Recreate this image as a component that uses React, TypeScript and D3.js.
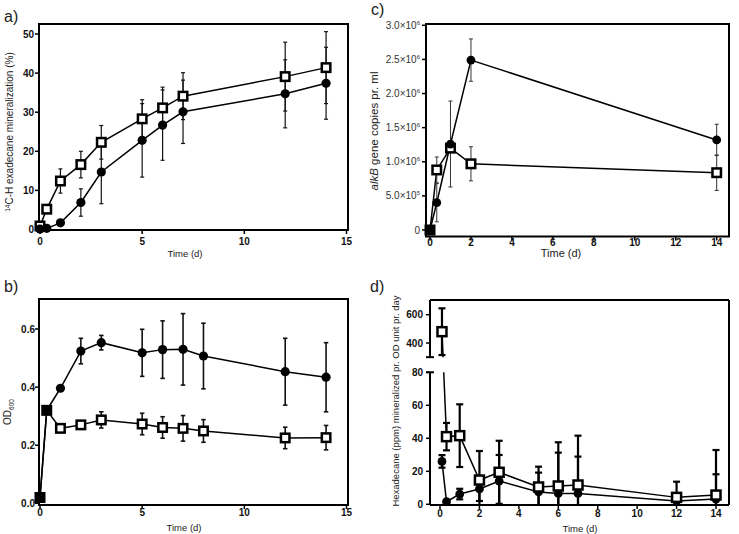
import React from "react";
import * as d3 from "d3";

// ---------- data ----------
// a) 14C-hexadecane mineralization (%)
const timeA = [0, 0.33, 1, 2, 3, 5, 6, 7, 12, 14];
const aSquare = [0.9, 5.2, 12.4, 16.6, 22.3, 28.3, 31.1, 34.1, 39.1, 41.4];
const aSquareErr = [0, 0, 3.1, 3.4, 4.3, 4.9, 5.3, 6.0, 8.8, 9.2];
const aCircle = [0.1, 0.3, 1.7, 6.9, 14.7, 22.8, 26.7, 30.1, 34.7, 37.4];
const aCircleErr = [0, 0, 0, 3.5, 8.1, 9.4, 9.0, 8.1, 8.7, 9.2];
const aXTicks = [0, 5, 10, 15];
const aYTicks = [0, 10, 20, 30, 40, 50];

// b) OD600
const timeB = [0, 0.33, 1, 2, 3, 5, 6, 7, 8, 12, 14];
const bCircle = [0.02, 0.32, 0.396, 0.524, 0.553, 0.518, 0.529, 0.53, 0.507, 0.453, 0.434];
const bCircleErr = [0, 0, 0, 0.044, 0.025, 0.081, 0.099, 0.123, 0.113, 0.115, 0.119];
const bSquare = [0.02, 0.32, 0.258, 0.27, 0.287, 0.273, 0.261, 0.258, 0.249, 0.225, 0.226];
const bSquareErr = [0, 0, 0, 0, 0.028, 0.037, 0.037, 0.044, 0.039, 0.037, 0.042];
const bXTicks = [0, 5, 10, 15];
const bYTicks = [0, 0.2, 0.4, 0.6];

// c) alkB gene copies pr. ml
const timeC = [0, 0.33, 1, 2, 14];
const cCircle = [0, 4.0e5, 1.26e6, 2.49e6, 1.32e6];
const cCircleErr = [0, 2.8e5, 6.3e5, 3.1e5, 2.3e5];
const cSquare = [0, 8.8e5, 1.2e6, 9.7e5, 8.4e5];
const cSquareErr = [0, 1.9e5, 0, 2.5e5, 2.6e5];
const cXTicks = [0, 2, 4, 6, 8, 10, 12, 14];
const cYTicks = [0, 5e5, 1e6, 1.5e6, 2e6, 2.5e6, 3e6];

// d) Hexadecane (ppm) mineralized pr. OD unit pr. day
const timeD = [0.1, 0.33, 1, 2, 3, 5, 6, 7, 12, 14];
const dSquare = [480, 41, 41.6, 14.7, 19.4, 10.5, 11.1, 11.7, 4.2, 5.6];
const dSquareErr = [165, 8.3, 19.0, 17.6, 19.1, 12.3, 26.5, 29.9, 9.5, 27.3];
const dCircle = [26, 1.6, 6.2, 9.3, 14.1, 7.5, 6.6, 6.6, 2.0, 3.2];
const dCircleErr = [3.8, 0, 3.2, 7.3, 15.8, 11.7, 24.7, 22.3, 0, 15.0];
const dXTicks = [0, 2, 4, 6, 8, 10, 12, 14];
const dYTicksLow = [0, 20, 40, 60, 80];
const dYTicksHigh = [400, 600];

const FONT = "'Liberation Sans', Arial, Helvetica, sans-serif";

type Sc = (v: number) => number;

function linePath(xs: number[], ys: number[], sx: Sc, sy: Sc) {
  const pts: [number, number][] = xs.map((x, i) => [sx(x), sy(ys[i])]);
  return d3.line()(pts) || "";
}

function ErrorBars(props: {
  xs: number[]; ys: number[]; es: number[]; sx: Sc; sy: Sc;
  cap: number; sw: number; color: string; minV?: number;
}) {
  const { xs, ys, es, sx, sy, cap, sw, color, minV } = props;
  return (
    <g stroke={color} strokeWidth={sw} fill="none">
      {xs.map((x, i) => {
        const e = es[i];
        if (!e) return null;
        const hi = ys[i] + e;
        let lo = ys[i] - e;
        let loCap = true;
        if (minV !== undefined && lo < minV) { lo = minV; loCap = false; }
        const px = sx(x);
        return (
          <g key={i}>
            <line x1={px} x2={px} y1={sy(hi)} y2={sy(lo)} />
            <line x1={px - cap / 2} x2={px + cap / 2} y1={sy(hi)} y2={sy(hi)} />
            {loCap && <line x1={px - cap / 2} x2={px + cap / 2} y1={sy(lo)} y2={sy(lo)} />}
          </g>
        );
      })}
    </g>
  );
}

function Squares(props: { xs: number[]; ys: number[]; sx: Sc; sy: Sc; s: number; sw: number }) {
  const { xs, ys, sx, sy, s, sw } = props;
  return (
    <g>
      {xs.map((x, i) => (
        <rect key={i} x={sx(x) - s / 2} y={sy(ys[i]) - s / 2} width={s} height={s}
          fill="#fff" stroke="#000" strokeWidth={sw} />
      ))}
    </g>
  );
}

function Circles(props: { xs: number[]; ys: number[]; sx: Sc; sy: Sc; r: number }) {
  const { xs, ys, sx, sy, r } = props;
  return (
    <g>
      {xs.map((x, i) => (
        <circle key={i} cx={sx(x)} cy={sy(ys[i])} r={r} fill="#000" />
      ))}
    </g>
  );
}

function XAxis(props: { ticks: number[]; sx: Sc; y: number; labelY: number; size: number }) {
  const { ticks, sx, y, labelY, size } = props;
  return (
    <g>
      {ticks.map((t) => (
        <g key={t}>
          <line x1={sx(t)} x2={sx(t)} y1={y} y2={y + 4} stroke="#000" strokeWidth={1.5} />
          <text x={sx(t)} y={labelY} textAnchor="middle" fontSize={size} fontWeight="bold"
            fontFamily={FONT} fill="#111">{t}</text>
        </g>
      ))}
    </g>
  );
}

function YAxis(props: {
  ticks: number[]; sy: Sc; x: number; labelX: number; size: number;
  fmt?: (v: number) => any; bold?: boolean; color?: string;
}) {
  const { ticks, sy, x, labelX, size, fmt, bold, color } = props;
  return (
    <g>
      {ticks.map((t) => (
        <g key={t}>
          <line x1={x - 4} x2={x} y1={sy(t)} y2={sy(t)} stroke="#000" strokeWidth={1.5} />
          <text x={labelX} y={sy(t)} dy="0.35em" textAnchor="end" fontSize={size}
            fontWeight={bold === false ? "normal" : "bold"} fontFamily={FONT}
            fill={color || "#111"}>{fmt ? fmt(t) : String(t)}</text>
        </g>
      ))}
    </g>
  );
}

function sciLabel(v: number) {
  if (v === 0) return "0";
  const exp = Math.floor(Math.log10(v));
  const mant = v / Math.pow(10, exp);
  return (
    <>
      {mant.toFixed(1)}×10<tspan fontSize="6" dy="-4">{exp}</tspan>
    </>
  );
}

export default function App() {
  // panel a
  const xA = d3.scaleLinear().domain([0, 15]).range([40, 346.5]);
  const yA = d3.scaleLinear().domain([0, 50]).range([229.5, 34]);
  // panel b
  const xB = d3.scaleLinear().domain([0, 15]).range([40, 346.5]);
  const yB = d3.scaleLinear().domain([0, 0.6]).range([503.3, 329]);
  // panel c
  const xC = d3.scaleLinear().domain([0, 14]).range([430, 716.7]);
  const yC = d3.scaleLinear().domain([0, 3e6]).range([230, 25.3]);
  // panel d (broken axis)
  const xD = d3.scaleLinear().domain([0, 14]).range([440, 716]);
  const yDLow = d3.scaleLinear().domain([0, 80]).range([504.3, 372.3]);
  const yDHigh = d3.scaleLinear().domain([400, 600]).range([343, 314.7]);
  const yD = (v: number) => (v > 200 ? yDHigh(v) : yDLow(v));
  const breakTop = yDHigh(300);
  const breakBottom = yDLow(80);

  const lineStyle = { fill: "none", stroke: "#000", strokeWidth: 1.5 } as const;

  return (
    <svg width={739} height={534} style={{ position: "absolute", left: 0, top: 0, background: "#fff" }}
      fontFamily={FONT}>
      <rect x={0} y={0} width={739} height={534} fill="#fff" />
      <defs>
        <clipPath id="clipD">
          <rect x={430} y={300} width={299} height={breakTop - 300} />
          <rect x={430} y={breakBottom} width={299} height={505 - breakBottom} />
        </clipPath>
      </defs>

      {/* ================= panel a ================= */}
      <text x={4} y={22} fontSize={16} fill="#222">a)</text>
      <rect x={39} y={24} width={309} height={206} fill="none" stroke="#000" strokeWidth={2} />
      <XAxis ticks={aXTicks} sx={xA} y={230} labelY={245} size={10} />
      <YAxis ticks={aYTicks} sy={yA} x={39} labelX={34} size={10} />
      <text x={185} y={257} textAnchor="middle" fontSize={9.5} fill="#222">Time (d)</text>
      <text transform="translate(13,132) rotate(-90)" textAnchor="middle" fontSize={10} fill="#222">
        <tspan fontSize="6.5" dy="-3.5">14</tspan>
        <tspan dy="3.5">C-H exadecane mineralization (%)</tspan>
      </text>
      <path d={linePath(timeA, aCircle, xA, yA)} {...lineStyle} />
      <path d={linePath(timeA, aSquare, xA, yA)} {...lineStyle} />
      <ErrorBars xs={timeA} ys={aCircle} es={aCircleErr} sx={xA} sy={yA} cap={4} sw={1.2} color="#111" />
      <ErrorBars xs={timeA} ys={aSquare} es={aSquareErr} sx={xA} sy={yA} cap={4} sw={1.2} color="#111" />
      <Squares xs={timeA} ys={aSquare} sx={xA} sy={yA} s={8.5} sw={2.5} />
      <Circles xs={timeA} ys={aCircle} sx={xA} sy={yA} r={4.6} />

      {/* ================= panel b ================= */}
      <text x={4} y={292} fontSize={16} fill="#222">b)</text>
      <rect x={39} y={299} width={309} height={206} fill="none" stroke="#000" strokeWidth={2} />
      <XAxis ticks={bXTicks} sx={xB} y={505} labelY={516} size={10} />
      <YAxis ticks={bYTicks} sy={yB} x={39} labelX={35} size={10} fmt={(v) => v.toFixed(1)} />
      <text x={184} y={531} textAnchor="middle" fontSize={9.5} fill="#222">Time (d)</text>
      <text transform="translate(11,412) rotate(-90)" textAnchor="middle" fontSize={10} fill="#222">
        OD<tspan fontSize="6.5" dy="3">600</tspan>
      </text>
      <path d={linePath(timeB, bCircle, xB, yB)} {...lineStyle} />
      <path d={linePath(timeB, bSquare, xB, yB)} {...lineStyle} />
      <ErrorBars xs={timeB} ys={bCircle} es={bCircleErr} sx={xB} sy={yB} cap={4.5} sw={1.6} color="#111" />
      <ErrorBars xs={timeB} ys={bSquare} es={bSquareErr} sx={xB} sy={yB} cap={4.5} sw={1.6} color="#111" />
      <Squares xs={timeB} ys={bSquare} sx={xB} sy={yB} s={8.5} sw={2.5} />
      <Circles xs={timeB} ys={bCircle} sx={xB} sy={yB} r={4.6} />

      {/* ================= panel c ================= */}
      <text x={371} y={15} fontSize={16} fill="#222">c)</text>
      <rect x={426} y={24} width={303} height={212.5} fill="none" stroke="#000" strokeWidth={2} />
      <XAxis ticks={cXTicks} sx={xC} y={236.5} labelY={246} size={10} />
      <YAxis ticks={cYTicks} sy={yC} x={426} labelX={420} size={10} fmt={sciLabel} bold={false} color="#333" />
      <text x={561} y={257} textAnchor="middle" fontSize={11} fill="#222">Time (d)</text>
      <text transform="translate(378,131) rotate(-90)" textAnchor="middle" fontSize={11.5} fill="#222">
        <tspan fontStyle="italic">alkB</tspan> gene copies pr. ml
      </text>
      <path d={linePath(timeC, cCircle, xC, yC)} {...lineStyle} />
      <path d={linePath(timeC, cSquare, xC, yC)} {...lineStyle} />
      <ErrorBars xs={timeC} ys={cCircle} es={cCircleErr} sx={xC} sy={yC} cap={4} sw={1} color="#333" />
      <ErrorBars xs={timeC} ys={cSquare} es={cSquareErr} sx={xC} sy={yC} cap={4} sw={1} color="#333" />
      <Squares xs={timeC} ys={cSquare} sx={xC} sy={yC} s={8.5} sw={2.5} />
      <Circles xs={timeC} ys={cCircle} sx={xC} sy={yC} r={4.4} />

      {/* ================= panel d ================= */}
      <text x={370} y={292} fontSize={16} fill="#222">d)</text>
      <g stroke="#000" strokeWidth={2} fill="none">
        <line x1={430} x2={729} y1={300} y2={300} />
        <line x1={729} x2={729} y1={300} y2={505} />
        <line x1={430} x2={729} y1={505} y2={505} />
        <line x1={430} x2={430} y1={300} y2={breakTop} />
        <line x1={430} x2={430} y1={breakBottom} y2={505} />
        <line x1={426} x2={434} y1={breakTop} y2={breakTop} />
        <line x1={426} x2={434} y1={breakBottom} y2={breakBottom} />
      </g>
      <XAxis ticks={dXTicks} sx={xD} y={505} labelY={517} size={10} />
      <YAxis ticks={dYTicksLow} sy={yDLow} x={430} labelX={423} size={10} />
      <YAxis ticks={dYTicksHigh} sy={yDHigh} x={430} labelX={423} size={10} />
      <text x={580} y={532} textAnchor="middle" fontSize={9.5} fill="#222">Time (d)</text>
      <text transform="translate(399,401) rotate(-90)" textAnchor="middle" fontSize={9.5} fill="#222">
        Hexadecane (ppm) mineralized pr. OD unit pr. day
      </text>
      <g clipPath="url(#clipD)">
        <path d={linePath(timeD, dCircle, xD, yD)} {...lineStyle} />
        <path d={linePath(timeD, dSquare, xD, yD)} {...lineStyle} />
      </g>
      <ErrorBars xs={timeD} ys={dCircle} es={dCircleErr} sx={xD} sy={yD} cap={7} sw={2.2} color="#000" minV={0} />
      <ErrorBars xs={timeD} ys={dSquare} es={dSquareErr} sx={xD} sy={yD} cap={7} sw={2.2} color="#000" minV={0} />
      <Circles xs={timeD} ys={dCircle} sx={xD} sy={yD} r={4.4} />
      <Squares xs={timeD} ys={dSquare} sx={xD} sy={yD} s={9} sw={2.5} />
    </svg>
  );
}
